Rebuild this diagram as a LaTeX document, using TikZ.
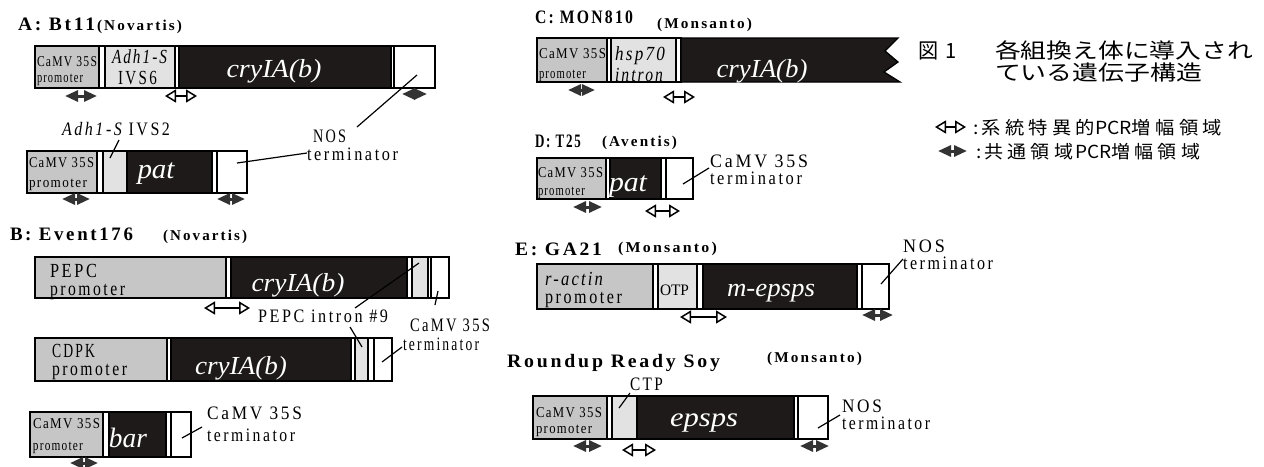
\documentclass[tikz,border=0pt]{standalone}
\usepackage{fontspec}
\usepackage{graphicx}
\setmainfont{Liberation Serif}
\newfontfamily\cf[FakeStretch=0.75]{Liberation Serif}
\newfontfamily\tf[FakeStretch=0.85]{Liberation Serif}
\newfontfamily\jf{Noto Sans CJK JP}
\usetikzlibrary{arrows.meta}
\newcommand\fsz[1]{\fontsize{#1pt}{#1pt}\selectfont}
\newcommand\lsp[1]{\addfontfeature{LetterSpace=#1}}
\newcommand\fitw[2]{\resizebox{#1pt}{\height}{#2}}
\definecolor{promgray}{HTML}{C6C6C6}
\definecolor{ltgray}{HTML}{E2E2E2}
\definecolor{geneblk}{HTML}{1E1A1A}
\definecolor{dkarrow}{HTML}{333333}
% segment: name, style, x1, x2, ytop, ybottom
\newcommand\gseg[6]{\pgfmathsetmacro\gsw{#4-#3}\pgfmathsetmacro\gsh{#6-#5}%
  \node[#2,minimum width=\gsw pt,minimum height=\gsh pt,anchor=north west] (#1) at (#3,#5) {};}
% marker arrow: style, name, x1, x2, y
\newcommand\marr[5]{\coordinate (#2a) at (#3,#5); \coordinate (#2b) at (#4,#5); \draw[#1] (#2a) -- (#2b);}
% leader: name, x1, y1, x2, y2
\newcommand\lead[5]{\coordinate (#1a) at (#2,#3); \coordinate (#1b) at (#4,#5); \draw[leader] (#1a) -- (#1b);}
\begin{document}
\begin{tikzpicture}[x=1pt,y=-1pt,
  seg/.style={draw=black, line width=1.3pt, inner sep=0pt, outer sep=0pt, rectangle},
  prom/.style={seg, fill=promgray},
  intr/.style={seg, fill=ltgray},
  gene/.style={seg, fill=geneblk},
  strip/.style={seg, fill=white, line width=1.1pt},
  term/.style={seg, fill=white},
  lbl/.style={inner sep=0pt, outer sep=0pt, anchor=base west},
  ttl/.style={lbl, font=\tf\bfseries\fsz{19}\lsp{12}},
  sub/.style={lbl, font=\tf\bfseries\fsz{15}\lsp{12}},
  sm/.style={lbl, font=\cf\fsz{15}\lsp{8}},
  big/.style={lbl, font=\cf\fsz{20}\lsp{12}},
  bigit/.style={lbl, font=\cf\itshape\fsz{20}\lsp{10}},
  note/.style={lbl, font=\cf\fsz{19}\lsp{12}},
  gname/.style={inner sep=0pt, outer sep=0pt, anchor=base, text=white, font=\itshape\fsz{#1}},
  jp/.style={lbl, font=\jf\fsz{21}},
  leg/.style={lbl, font=\jf\fsz{18}},
  leader/.style={draw=black, line width=1.2pt},
  spec/.style={draw=black, line width=1.5pt, arrows={Triangle[open,length=11pt,width=13pt]-Triangle[open,length=11pt,width=13pt]}},
  comm/.style={draw=dkarrow, fill=dkarrow, line width=3pt, arrows={Triangle[length=13pt,width=11pt]-Triangle[length=13pt,width=11pt]}}
]
\fill[white] (0,0) rectangle (1264,466);
\useasboundingbox (0,0) rectangle (1264,466);

%%%%%%%%%%%%%%%% A: Bt11
\node[ttl] (tA) at (18,30) {\fitw{77}{A: Bt11}};
\node[sub] (tAc) at (97,30) {\fitw{85}{(Novartis)}};
\gseg{a1p}{prom}{35}{99}{46}{88}
\gseg{a1s1}{strip}{99}{105}{46}{88}
\gseg{a1i}{intr}{105}{175}{46}{88}
\gseg{a1s2}{strip}{175}{179}{46}{88}
\gseg{a1g}{gene}{179}{391}{46}{88}
\gseg{a1s3}{strip}{391}{394}{46}{88}
\gseg{a1t}{term}{394}{435}{46}{88}
\node[sm] (a1pt1) at (37,66) {\fitw{60}{CaMV 35S}};
\node[sm] (a1pt2) at (37,82) {\fitw{46}{promoter}};
\node[bigit] (a1it1) at (112,63) {\fitw{55}{Adh1-S}};
\node[big] (a1it2) at (118,84) {\fitw{39}{IVS6}};
\node[gname=26] (a1gt) at (274,77) {\fitw{95}{cryIA(b)}};
\marr{comm}{a1m1}{65}{97}{96}
\marr{spec}{a1m2}{165}{197}{96}
\marr{comm}{a1m3}{402}{427}{94}

\gseg{a2p}{prom}{27}{97}{151}{193}
\gseg{a2s1}{strip}{97}{103}{151}{193}
\gseg{a2i}{intr}{103}{127}{151}{193}
\gseg{a2g}{gene}{127}{212}{151}{193}
\gseg{a2s2}{strip}{212}{217}{151}{193}
\gseg{a2t}{term}{217}{247}{151}{193}
\node[sm] (a2pt1) at (29,167) {\fitw{65}{CaMV 35S}};
\node[sm] (a2pt2) at (29,187) {\fitw{58}{promoter}};
\node[gname=28] (a2gt) at (156,178) {\fitw{37}{pat}};
\node[note] (adhlab) at (62,135) {\fitw{108}{{\itshape Adh1-S} IVS2}};
\node[note] (nosA1) at (313,142) {\fitw{33}{NOS}};
\node[note] (nosA2) at (307,160) {\fitw{91}{terminator}};
\marr{comm}{a2m1}{62}{90}{199}
\marr{comm}{a2m2}{217}{245}{199}
\lead{la1}{417}{75}{357}{127}
\lead{la2}{237}{163}{307}{153}
\lead{la3}{110}{158}{119}{140}

%%%%%%%%%%%%%%%% B: Event176
\node[ttl] (tB) at (10,240) {\fitw{123}{B: Event176}};
\node[sub] (tBc) at (163,240) {\fitw{84}{(Novartis)}};
\gseg{b1p}{prom}{35}{226}{257}{298}
\gseg{b1s1}{strip}{226}{231}{257}{298}
\gseg{b1g}{gene}{231}{407}{257}{298}
\gseg{b1s2}{strip}{407}{412}{257}{298}
\gseg{b1i}{intr}{412}{428}{257}{298}
\gseg{b1s3}{strip}{428}{431}{257}{298}
\gseg{b1t}{term}{431}{449}{257}{298}
\node[big] (b1pt1) at (50,277) {\fitw{47}{PEPC}};
\node[big] (b1pt2) at (50,295) {\fitw{75}{promoter}};
\node[gname=26] (b1gt) at (298,291) {\fitw{93}{cryIA(b)}};
\marr{spec}{b1m1}{204}{250}{308}
\node[note] (pepcint) at (258,322) {\fitw{130}{PEPC intron \#9}};

\gseg{b2p}{prom}{35}{167}{338}{381}
\gseg{b2s1}{strip}{167}{171}{338}{381}
\gseg{b2g}{gene}{171}{351}{338}{381}
\gseg{b2s2}{strip}{351}{355}{338}{381}
\gseg{b2i}{intr}{355}{368}{338}{381}
\gseg{b2s3}{strip}{368}{374}{338}{381}
\gseg{b2t}{term}{374}{392}{338}{381}
\node[big] (b2pt1) at (52,357) {\fitw{43}{CDPK}};
\node[big] (b2pt2) at (52,375) {\fitw{75}{promoter}};
\node[gname=26] (b2gt) at (241,374) {\fitw{92}{cryIA(b)}};
\node[note] (camvB1) at (410,331) {\fitw{80}{CaMV 35S}};
\node[note] (camvB2) at (403,350) {\fitw{76}{terminator}};
\lead{lb1}{419}{263}{355}{308}
\lead{lb2}{438}{291}{435}{305}
\lead{lb3}{350}{327}{362}{347}
\lead{lb4}{382}{362}{402}{347}

\gseg{b3p}{prom}{30}{103}{412}{457}
\gseg{b3s1}{strip}{103}{109}{412}{457}
\gseg{b3g}{gene}{109}{166}{412}{457}
\gseg{b3s2}{strip}{166}{171}{412}{457}
\gseg{b3t}{term}{171}{191}{412}{457}
\node[sm] (b3pt1) at (33,428) {\fitw{67}{CaMV 35S}};
\node[sm] (b3pt2) at (33,450) {\fitw{50}{promoter}};
\node[gname=28] (b3gt) at (128,447) {\fitw{38}{bar}};
\node[note] (camvB3) at (207,419) {\fitw{95}{CaMV 35S}};
\node[note] (camvB4) at (207,441) {\fitw{88}{terminator}};
\lead{lb5}{182}{438}{202}{427}
\marr{comm}{b3m1}{70}{98}{463}

%%%%%%%%%%%%%%%% C: MON810
\node[ttl] (tC) at (535,23) {\fitw{98}{C: MON810}};
\node[sub] (tCc) at (657,28) {\fitw{95}{(Monsanto)}};
\gseg{cp}{prom}{537}{607}{38}{82}
\gseg{cs1}{strip}{607}{611}{38}{82}
\gseg{ci}{intr}{611}{676}{38}{82}
\gseg{cs2}{strip}{676}{681}{38}{82}
\draw[gene] (681,38) -- (898,38) -- (885,51) -- (898,62) -- (884,72) -- (900,82) -- (681,82) -- cycle;
\node[sm] (cpt1) at (539,58) {\fitw{67}{CaMV 35S}};
\node[sm] (cpt2) at (539,78) {\fitw{47}{promoter}};
\node[bigit] (cit1) at (615,60) {\fitw{50}{hsp70}};
\node[bigit] (cit2) at (615,81) {\fitw{48}{intron}};
\node[gname=26] (cgt) at (762,77) {\fitw{91}{cryIA(b)}};
\marr{comm}{cm1}{568}{595}{90}
\marr{spec}{cm2}{663}{695}{97}

%%%%%%%%%%%%%%%% D: T25
\node[ttl] (tD) at (535,147) {\fitw{46}{D: T25}};
\node[sub] (tDc) at (602,146) {\fitw{75}{(Aventis)}};
\gseg{dp}{prom}{537}{606}{158}{199}
\gseg{ds1}{strip}{606}{610}{158}{199}
\gseg{dg}{gene}{610}{661}{158}{199}
\gseg{ds2}{strip}{661}{666}{158}{199}
\gseg{dt}{term}{666}{693}{158}{199}
\node[sm] (dpt1) at (538,177) {\fitw{65}{CaMV 35S}};
\node[sm] (dpt2) at (538,195) {\fitw{47}{promoter}};
\node[gname=28] (dgt) at (628,191) {\fitw{38}{pat}};
\node[note] (camvD1) at (710,167) {\fitw{98}{CaMV 35S}};
\node[note] (camvD2) at (710,184) {\fitw{92}{terminator}};
\lead{ld1}{683}{184}{709}{168}
\marr{comm}{dm1}{573}{602}{207}
\marr{spec}{dm2}{645}{680}{211}

%%%%%%%%%%%%%%%% E: GA21
\node[ttl] (tE) at (515,255) {\fitw{87}{E: GA21}};
\node[sub] (tEc) at (618,252) {\fitw{99}{(Monsanto)}};
\gseg{ep}{prom}{537}{653}{264}{309}
\gseg{es1}{strip}{653}{658}{264}{309}
\gseg{ei}{intr}{658}{697}{264}{309}
\gseg{es2}{strip}{697}{703}{264}{309}
\gseg{eg}{gene}{703}{857}{264}{309}
\gseg{es3}{strip}{857}{862}{264}{309}
\gseg{et}{term}{862}{889}{264}{309}
\node[bigit] (ept1) at (545,285) {\fitw{58}{r-actin}};
\node[big] (ept2) at (545,303) {\fitw{77}{promoter}};
\node[lbl, font=\cf\fsz{16}] (eit) at (660,295) {\fitw{29}{OTP}};
\node[gname=26] (egt) at (771,296) {\fitw{88}{m-epsps}};
\node[note] (nosE1) at (903,252) {\fitw{42}{NOS}};
\node[note] (nosE2) at (903,269) {\fitw{90}{terminator}};
\lead{le1}{881}{284}{903}{259}
\marr{spec}{em1}{680}{727}{317}
\marr{comm}{em2}{862}{893}{315}

%%%%%%%%%%%%%%%% Roundup Ready Soy
\node[ttl] (tR) at (507,367) {\fitw{213}{Roundup Ready Soy}};
\node[sub] (tRc) at (767,362) {\fitw{95}{(Monsanto)}};
\gseg{rp}{prom}{533}{607}{396}{439}
\gseg{rs1}{strip}{607}{612}{396}{439}
\gseg{ri}{intr}{612}{637}{396}{439}
\gseg{rg}{gene}{637}{794}{396}{439}
\gseg{rs2}{strip}{794}{798}{396}{439}
\gseg{rt}{term}{798}{828}{396}{439}
\node[sm] (rpt1) at (536,417) {\fitw{66}{CaMV 35S}};
\node[sm] (rpt2) at (536,433) {\fitw{56}{promoter}};
\node[note] (ctp) at (630,390) {\fitw{33}{CTP}};
\node[gname=27] (rgt) at (704,426) {\fitw{68}{epsps}};
\node[note] (nosR1) at (842,412) {\fitw{40}{NOS}};
\node[note] (nosR2) at (842,429) {\fitw{88}{terminator}};
\lead{lr1}{619}{408}{630}{393}
\lead{lr2}{818}{428}{840}{415}
\marr{comm}{rm1}{573}{602}{446}
\marr{spec}{rm2}{622}{656}{450}
\marr{comm}{rm3}{800}{829}{446}

%%%%%%%%%%%%%%%% caption and legend
\node[jp] (fig) at (918,58) {\fitw{39}{図\hspace{8pt}1}};
\node[jp] (cap1) at (995,58) {\fitw{258}{各組換え体に導入され}};
\node[jp] (cap2) at (995,80) {\fitw{207}{ている遺伝子構造}};
\marr{spec}{lg1}{935}{966}{127}
\node[leg] (leg1) at (973,134) {\fitw{249}{:\hspace{3pt}系\hspace{4pt}統\hspace{4pt}特\hspace{4pt}異\hspace{4pt}的PCR増\hspace{4pt}幅\hspace{4pt}領\hspace{4pt}域}};
\marr{comm}{lg2}{938}{967}{151}
\node[leg] (leg2) at (976,158) {\fitw{224}{:\hspace{3pt}共\hspace{4pt}通\hspace{4pt}領\hspace{4pt}域\hspace{2pt}PCR増\hspace{4pt}幅\hspace{4pt}領\hspace{4pt}域}};
\end{tikzpicture}
\end{document}
